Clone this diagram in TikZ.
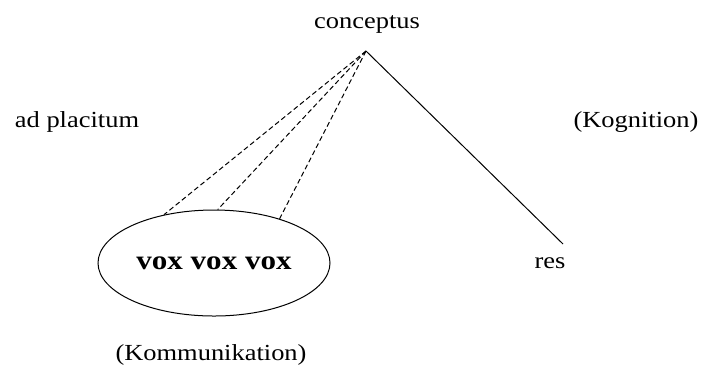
\documentclass[tikz,border=0pt]{standalone}
\usepackage{fontspec}
\setmainfont{Liberation Serif}[FakeStretch=1.15]
\usetikzlibrary{shapes.geometric}
\tikzset{
  wort/.style={font=\fontsize{23}{26}\selectfont, inner sep=0pt},
  strich/.style={line width=1pt, dash pattern=on 5pt off 3pt},
}
\begin{document}
\begin{tikzpicture}[x=1pt,y=-1pt]
                \useasboundingbox (0,0) rectangle (708,376);
                % Begriff oben
                \node[wort] (conceptus) at (367,24) {conceptus};
                \coordinate (spitze) at (366,51);

                % Seiten
                \node[wort] (placitum) at (77,122) {ad placitum};
                \node[wort] (kognition) at (636,122) {(Kognition)};

                % Sache
                \node[wort] (res) at (550,263) {res};
                \coordinate (resende) at (563,244);
                \draw[line width=1pt] (spitze) -- (resende);

                % Laute
                \node[draw, ellipse, line width=1pt, minimum width=232pt, minimum height=106pt, inner sep=0pt,
                      font=\fontsize{27}{30}\selectfont\bfseries] (vox) at (214,263) {vox vox vox};
                \draw[strich] (spitze) -- (vox.136);
                \draw[strich] (spitze) -- (vox.86);
                \draw[strich] (spitze) -- (vox.34);
                \node[wort] (kommunikation) at (211,355) {(Kommunikation)};
\end{tikzpicture}
\end{document}
